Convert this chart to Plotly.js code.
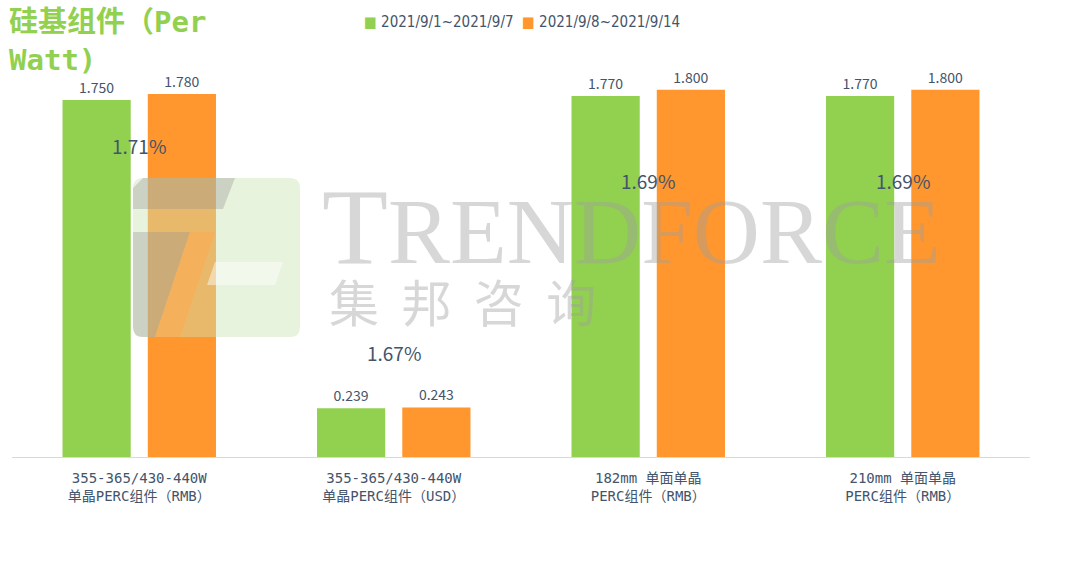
<!DOCTYPE html>
<html>
<head>
<meta charset="utf-8">
<script src="https://cdn.plot.ly/plotly-3.0.1.min.js"></script>
<style>html,body{margin:0;padding:0;background:#fff;}#chart{width:1080px;height:562px;}</style>
</head>
<body>
<div id="chart"></div>
<script>
// ---- data ----
const categories = [
  "355-365/430-440W<br>单晶PERC组件（RMB）",
  "355-365/430-440W<br>单晶PERC组件（USD）",
  "182mm 单面单晶<br>PERC组件（RMB）",
  "210mm 单面单晶<br>PERC组件（RMB）"
];
const seriesNames = ["2021/9/1~2021/9/7", "2021/9/8~2021/9/14"];
const seriesColors = ["#92D050", "#FF962E"];
const week1 = [1.750, 0.239, 1.770, 1.770];
const week2 = [1.780, 0.243, 1.800, 1.800];
const changeLabels = ["1.71%", "1.67%", "1.69%", "1.69%"];
const titleText = "硅基组件（Per<br>Watt)";

// ---- layout helpers (pixel -> paper) ----
const L = 12, R = 1030, T = 49, B = 457;
const px = x => (x - L) / (R - L);
const py = y => (B - y) / (B - T);

const textColor = "#44546A";
const font = "'Noto Sans CJK SC', 'Noto Sans', sans-serif";
const monoFont = "'DejaVu Sans Mono', 'Noto Sans CJK SC', monospace";
const narrowFont = "'Liberation Sans Narrow', 'DejaVu Sans Condensed', 'Noto Sans', sans-serif";

const traces = [week1, week2].map((vals, i) => ({
  type: "bar", name: seriesNames[i], x: categories, y: vals,
  marker: {color: seriesColors[i]}, texttemplate: "%{y:.3f}", textposition: "outside",
  textfont: {size: 14, color: textColor, family: font}, cliponaxis: false
}));

// change-label vertical pixel positions
const changeY = [145, 352, 181, 181];
const annotations = changeLabels.map((t, i) => ({
  x: categories[i], xref: "x", y: py(changeY[i]), yref: "paper", yanchor: "middle",
  text: t, showarrow: false, font: {size: 19, color: textColor, family: font}
}));
annotations.push({
  x: px(7), y: py(3), xref: "paper", yref: "paper", xanchor: "left", yanchor: "top",
  align: "left", text: "<b>" + titleText + "</b>", showarrow: false,
  font: {size: 29, color: "#92D050", family: monoFont}
});
// custom legend
const legendX = [362, 520];
seriesNames.forEach((n, i) => {
  annotations.push({
    x: px(legendX[i]), y: py(22), xref: "paper", yref: "paper", xanchor: "left", yanchor: "middle",
    text: "<span style='color:" + seriesColors[i] + "'>■</span> " + n, showarrow: false,
    font: {size: 15, color: textColor, family: narrowFont}
  });
});
// watermark text
annotations.push({
  x: px(320), y: py(226), xref: "paper", yref: "paper", xanchor: "left", yanchor: "middle",
  text: "<span style='font-size:108px'>T</span>RENDFORCE", showarrow: false,
  font: {size: 93, color: "rgba(160,160,160,0.42)", family: "'Liberation Serif', 'DejaVu Serif', serif"}
});
annotations.push({
  x: px(327), y: py(300), xref: "paper", yref: "paper", xanchor: "left", yanchor: "middle",
  text: "集&nbsp;&nbsp;邦&nbsp;&nbsp;咨&nbsp;&nbsp;询", showarrow: false,
  font: {size: 50, color: "rgba(160,160,160,0.42)", family: font}
});

const shapes = [
  {type: "path", xref: "paper", yref: "paper", layer: "above", line: {width: 0},
   fillcolor: "rgba(205,228,180,0.45)",
   path: `M ${px(143)} ${py(178)} L ${px(290)} ${py(178)} Q ${px(300)} ${py(178)} ${px(300)} ${py(188)} L ${px(300)} ${py(327)} Q ${px(300)} ${py(337)} ${px(290)} ${py(337)} L ${px(143)} ${py(337)} Q ${px(133)} ${py(337)} ${px(133)} ${py(327)} L ${px(133)} ${py(188)} Q ${px(133)} ${py(178)} ${px(143)} ${py(178)} Z`},
  {type: "path", xref: "paper", yref: "paper", layer: "above", line: {width: 0},
   fillcolor: "rgba(150,150,150,0.35)",
   path: `M ${px(143)} ${py(178)} L ${px(235)} ${py(178)} L ${px(223)} ${py(209)} L ${px(133)} ${py(209)} L ${px(133)} ${py(188)} Z`},
  {type: "path", xref: "paper", yref: "paper", layer: "above", line: {width: 0},
   fillcolor: "rgba(150,150,150,0.35)",
   path: `M ${px(133)} ${py(232)} L ${px(190)} ${py(232)} L ${px(155)} ${py(337)} L ${px(143)} ${py(337)} Q ${px(133)} ${py(337)} ${px(133)} ${py(327)} Z`},
  {type: "path", xref: "paper", yref: "paper", layer: "above", line: {width: 0},
   fillcolor: "rgba(255,170,80,0.55)",
   path: `M ${px(190)} ${py(232)} L ${px(215)} ${py(232)} L ${px(180)} ${py(337)} L ${px(155)} ${py(337)} Z`},
  {type: "path", xref: "paper", yref: "paper", layer: "above", line: {width: 0},
   fillcolor: "rgba(255,255,255,0.45)",
   path: `M ${px(215)} ${py(262)} L ${px(283)} ${py(262)} L ${px(275)} ${py(285)} L ${px(207)} ${py(285)} Z`}
];

const layout = {
  width: 1080, height: 562,
  paper_bgcolor: "#fff", plot_bgcolor: "#fff",
  margin: {l: L, r: 1080 - R, t: T, b: 562 - B},
  barmode: "group", bargap: 0.33, bargroupgap: 0.2,
  font: {family: font, color: textColor, size: 13},
  showlegend: false,
  xaxis: {showline: true, linecolor: "#D9D9D9", linewidth: 1, ticks: "", showgrid: false,
          automargin: false, tickfont: {size: 14, color: textColor, family: monoFont},
          ticklabelstandoff: 8},
  yaxis: {range: [0, 2], visible: false, showgrid: false, zeroline: false, automargin: false},
  annotations: annotations,
  shapes: shapes
};

Plotly.newPlot("chart", traces, layout, {displayModeBar: false, staticPlot: true});
</script>
</body>
</html>
